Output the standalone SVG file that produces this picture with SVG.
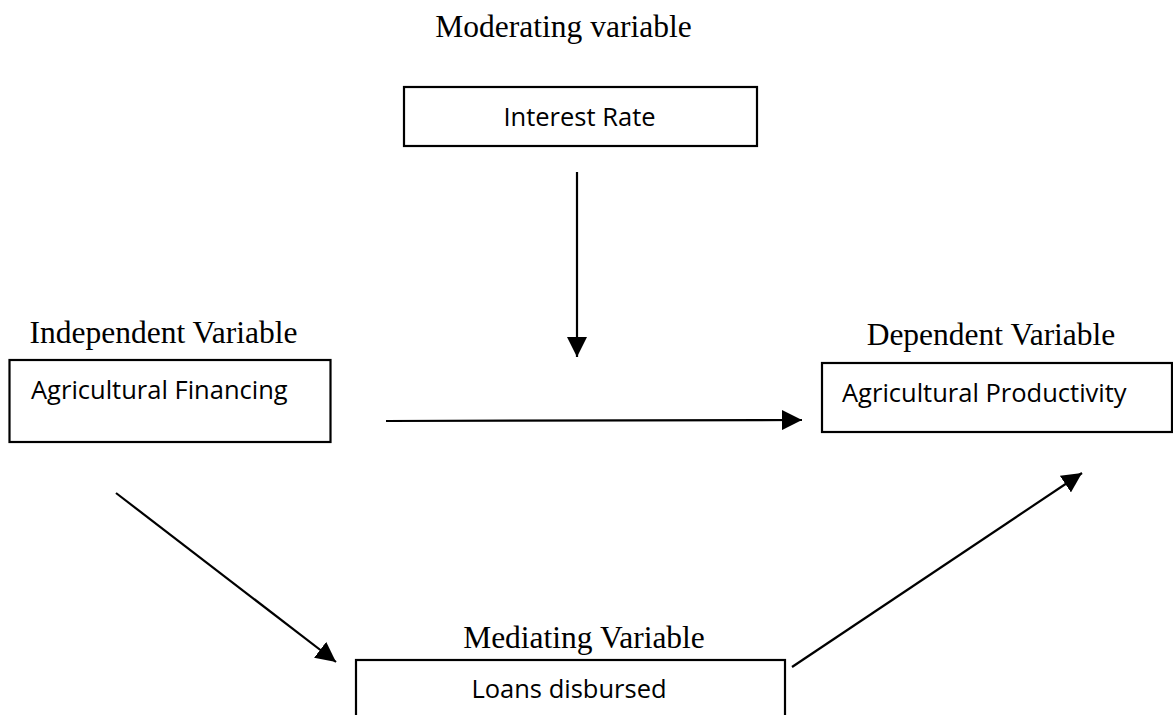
<svg xmlns="http://www.w3.org/2000/svg" width="1173" height="715" viewBox="0 0 1173 715">
<style>
.box{fill:#fff;stroke:#000;stroke-width:2.2}
.lbl{font-family:"Liberation Serif","Times New Roman",serif;font-size:31.5px;fill:#000}
.txt{font-family:"Open Sans","Liberation Sans",sans-serif;font-size:25.5px;fill:#000}
.con{stroke:#000;stroke-width:2.2;fill:none;marker-end:url(#ah)}
</style>
<defs>
<marker id="ah" markerUnits="userSpaceOnUse" markerWidth="20" markerHeight="20" viewBox="0 0 16 16" refX="16" refY="8" orient="auto">
<path d="M0,0 L16,8 L0,16 Z" fill="#000"/>
</marker>
</defs>
<rect width="1173" height="715" fill="#fff"/>
<g id="moderating">
<text class="lbl" x="563.5" y="37" text-anchor="middle">Moderating variable</text>
<rect class="box" x="404" y="87" width="353" height="59"/>
<text class="txt" x="579.5" y="126" text-anchor="middle">Interest Rate</text>
</g>
<g id="independent">
<text class="lbl" x="163.5" y="343" text-anchor="middle">Independent Variable</text>
<rect class="box" x="9.5" y="360" width="321" height="82"/>
<text class="txt" x="31" y="399">Agricultural Financing</text>
</g>
<g id="dependent">
<text class="lbl" x="991" y="345" text-anchor="middle">Dependent Variable</text>
<rect class="box" x="822" y="363" width="350" height="69"/>
<text class="txt" x="842" y="402">Agricultural Productivity</text>
</g>
<g id="mediating">
<text class="lbl" x="584" y="648" text-anchor="middle">Mediating Variable</text>
<rect class="box" x="356" y="660" width="429" height="80"/>
<text class="txt" x="569" y="698" text-anchor="middle">Loans disbursed</text>
</g>
<g id="connectors">
<line class="con" x1="577" y1="172" x2="577" y2="357"/>
<line class="con" x1="386" y1="421" x2="802" y2="420"/>
<line class="con" x1="116" y1="493" x2="336" y2="662"/>
<line class="con" x1="792" y1="667" x2="1082" y2="473"/>
</g>
</svg>
